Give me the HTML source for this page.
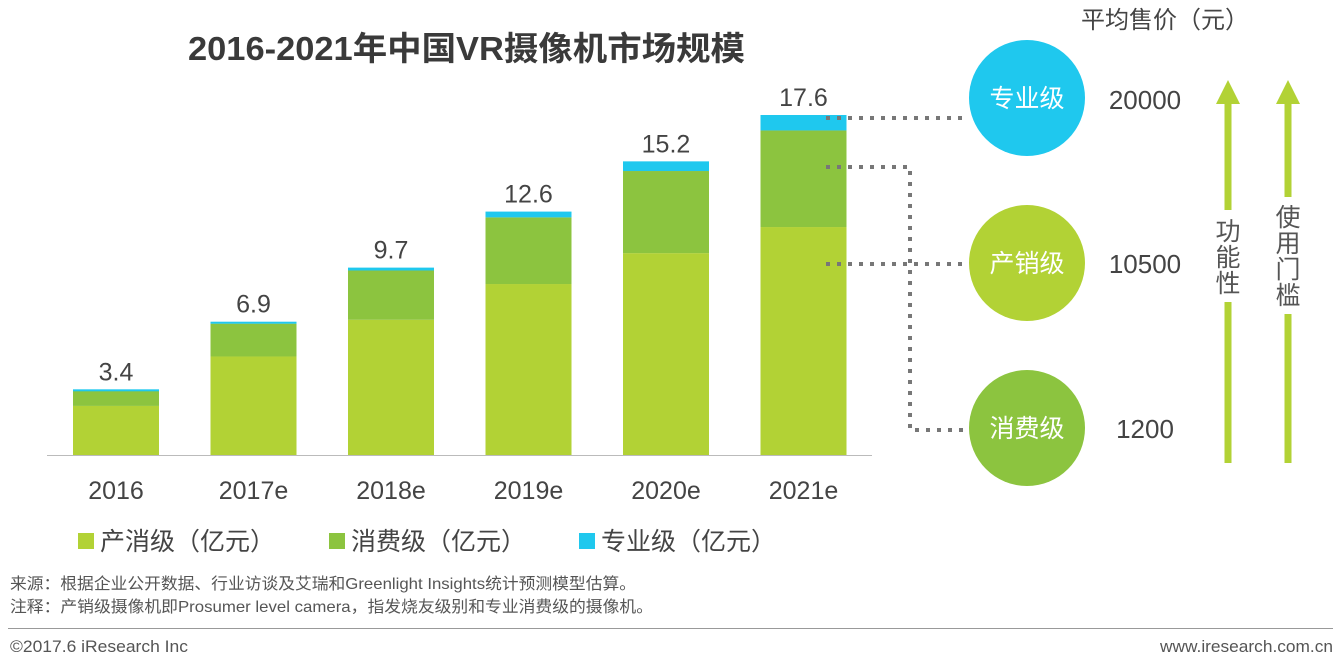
<!DOCTYPE html>
<html><head><meta charset="utf-8"><style>
body{margin:0;background:#fff;}
svg text{font-family:"Liberation Sans","Noto Sans CJK SC",sans-serif;}
</style></head><body>
<svg width="1339" height="660" xmlns="http://www.w3.org/2000/svg">
<text x="188" y="60" textLength="557" lengthAdjust="spacingAndGlyphs" font-size="33" font-weight="bold" fill="#3a3a3a">2016-2021年中国VR摄像机市场规模</text>
<g id="bars"></g>
<line x1="47" y1="455.5" x2="872" y2="455.5" stroke="#bbb" stroke-width="1"/>
<g>
<rect x="78" y="533" width="16" height="16" fill="#b2d235"/>
<text x="100" y="550" font-size="25" fill="#444">产消级（亿元）</text>
<rect x="329" y="533" width="16" height="16" fill="#8cc43f"/>
<text x="351" y="550" font-size="25" fill="#444">消费级（亿元）</text>
<rect x="579" y="533" width="16" height="16" fill="#1fc8ee"/>
<text x="601" y="550" font-size="25" fill="#444">专业级（亿元）</text>
</g>
<g stroke="#777" stroke-width="4" stroke-dasharray="4 7" fill="none">
<path d="M826 118 H968"/>
<path d="M826 167 H910 V430 H968"/>
<path d="M826 264 H968"/>
</g>
<text x="1165" y="28" text-anchor="middle" font-size="24" fill="#444">平均售价（元）</text>
<circle cx="1027" cy="98" r="58" fill="#1fc8ee"/>
<text x="1027" y="107" text-anchor="middle" font-size="25" fill="#fff">专业级</text>
<circle cx="1027" cy="263" r="58" fill="#b2d235"/>
<text x="1027" y="272" text-anchor="middle" font-size="25" fill="#fff">产销级</text>
<circle cx="1027" cy="428" r="58" fill="#8cc43f"/>
<text x="1027" y="437" text-anchor="middle" font-size="25" fill="#fff">消费级</text>
<text x="1145" y="109" text-anchor="middle" font-size="26" fill="#444">20000</text>
<text x="1145" y="273" text-anchor="middle" font-size="26" fill="#444">10500</text>
<text x="1145" y="438" text-anchor="middle" font-size="26" fill="#444">1200</text>
<g fill="#b2d235">
<polygon points="1228,80 1240,104 1216,104"/>
<rect x="1224.5" y="103" width="7" height="107"/>
<rect x="1224.5" y="302" width="7" height="161"/>
</g>
<g font-size="25" fill="#555" text-anchor="middle">
<text x="1228" y="240">功</text><text x="1228" y="266">能</text><text x="1228" y="292">性</text>
</g>
<g fill="#b2d235">
<polygon points="1288,80 1300,104 1276,104"/>
<rect x="1284.5" y="103" width="7" height="94"/>
<rect x="1284.5" y="314" width="7" height="149"/>
</g>
<g font-size="25" fill="#555" text-anchor="middle">
<text x="1288" y="226">使</text><text x="1288" y="252">用</text><text x="1288" y="278">门</text><text x="1288" y="304">槛</text>
</g>
<text x="10" y="589" textLength="626" lengthAdjust="spacingAndGlyphs" font-size="16" fill="#555">来源：根据企业公开数据、行业访谈及艾瑞和Greenlight Insights统计预测模型估算。</text>
<text x="10" y="612" textLength="643" lengthAdjust="spacingAndGlyphs" font-size="16" fill="#555">注释：产销级摄像机即Prosumer  level camera，指发烧友级别和专业消费级的摄像机。</text>
<line x1="8" y1="628.5" x2="1333" y2="628.5" stroke="#999" stroke-width="1"/>
<text x="10" y="652" textLength="178" lengthAdjust="spacingAndGlyphs" font-size="17" fill="#555">©2017.6 iResearch Inc</text>
<text x="1160" y="652" textLength="173" lengthAdjust="spacingAndGlyphs" font-size="17" fill="#555">www.iresearch.com.cn</text>
</svg>
<script>
const categories=["2016","2017e","2018e","2019e","2020e","2021e"];
const prosumer=[2.54,5.1,7.0,8.85,10.45,11.8];
const consumer=[0.83,1.7,2.55,3.45,4.25,5.0];
const professional=[0.03,0.1,0.15,0.3,0.5,0.8];
const totals=["3.4","6.9","9.7","12.6","15.2","17.6"];
const NS="http://www.w3.org/2000/svg";
const base=455, k=340/17.6;
const xs=i=>73+i*137.5, bw=86;
const y=v=>base-v*k;
const g=document.getElementById('bars');
function mk(tag,a){const e=document.createElementNS(NS,tag);for(const n in a)e.setAttribute(n,a[n]);g.appendChild(e);return e;}
categories.forEach((c,i)=>{
  const a=prosumer[i],b=consumer[i],p=professional[i];
  let r=mk('rect',{x:xs(i),y:y(a),width:bw,height:a*k,fill:'#b2d235'});
  
  
  r=mk('rect',{x:xs(i),y:y(a+b),width:bw,height:b*k,fill:'#8cc43f'});
  
  
  r=mk('rect',{x:xs(i),y:y(a+b+p),width:bw,height:Math.max(p*k,2),fill:'#1fc8ee'});
  
  
  let t=mk('text',{x:xs(i)+bw/2,y:y(a+b+p)-9,'text-anchor':'middle','font-size':25,fill:'#444'});
  t.textContent=totals[i];
  
  
  t=mk('text',{x:xs(i)+bw/2,y:499,'text-anchor':'middle','font-size':25,fill:'#444'});
  t.textContent=c;
  
  
});
</script>
</body></html>
